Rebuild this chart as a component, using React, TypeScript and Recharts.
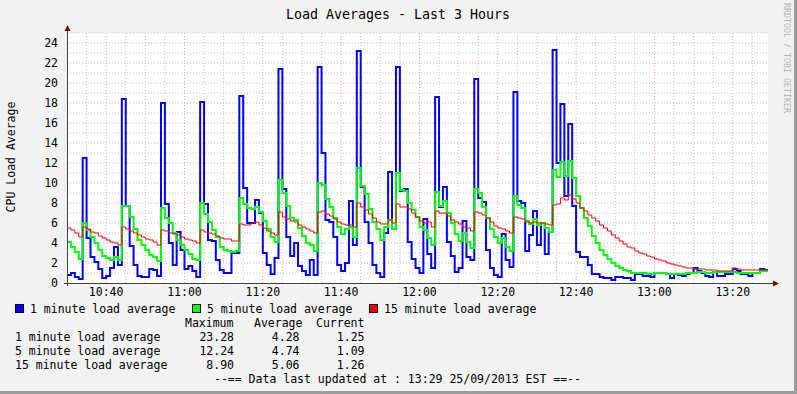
import React from 'react';
import { LineChart, Line, XAxis, YAxis, CartesianGrid } from 'recharts';

// minutes after 10:30, one sample per minute up to 13:29
const startMinute = 0;
const sampleCount = 180;

const load1 = [
    0.8, 1.0, 0.6, 0.4, 12.5, 4.5, 2.6, 2.1, 1.4, 0.5,
    0.7, 1.5, 3.6, 1.8, 18.4, 7.7, 3.7, 1.8, 0.7, 0.6,
    0.6, 1.4, 1.3, 0.7, 18.0, 7.9, 4.0, 1.8, 5.1, 3.3,
    1.4, 1.7, 1.2, 0.6, 18.1, 7.9, 4.3, 4.2, 2.3, 1.3,
    1.0, 1.0, 3.0, 3.0, 18.7, 9.5, 6.0, 6.0, 8.3, 7.0,
    3.0, 1.8, 0.9, 2.5, 21.4, 9.4, 4.6, 2.7, 4.0, 1.7,
    1.2, 0.8, 2.3, 0.8, 21.6, 13.0, 6.3, 6.1, 4.6, 1.8,
    1.2, 2.0, 8.2, 3.8, 23.2, 9.6, 6.1, 4.0, 1.8, 1.0,
    0.6, 5.0, 11.1, 5.4, 21.6, 9.2, 9.4, 4.1, 2.4, 1.5,
    1.0, 6.4, 2.9, 1.5, 18.6, 7.6, 9.6, 4.1, 2.7, 1.1,
    1.5, 6.2, 2.6, 2.3, 20.4, 8.5, 8.1, 3.3, 1.5, 0.8,
    0.6, 4.9, 2.3, 1.6, 19.1, 8.2, 8.0, 3.2, 4.8, 7.2,
    3.8, 6.0, 2.9, 5.1, 23.3, 12.0, 17.9, 8.7, 15.9, 7.7,
    3.1, 2.6, 2.6, 1.8, 0.9, 0.9, 0.6, 0.5, 0.5, 0.3,
    0.6, 0.6, 0.5, 0.5, 0.3, 0.9, 0.9, 0.7, 0.7, 0.6,
    1.0, 1.0, 1.0, 0.9, 0.5, 0.9, 0.8, 0.7, 0.9, 1.0,
    1.5, 1.2, 1.0, 0.7, 0.6, 1.1, 0.7, 0.7, 0.9, 0.9,
    1.4, 1.2, 0.9, 0.9, 0.7, 1.0, 1.0, 1.4, 1.3, 1.25,
];

const load5 = [
    4.1, 3.6, 3.1, 2.4, 6.0, 5.3, 4.6, 4.0, 3.3, 2.7,
    2.5, 2.3, 2.6, 2.3, 7.7, 7.7, 6.6, 5.4, 4.3, 3.8,
    3.3, 2.8, 2.6, 2.2, 7.5, 6.5, 6.0, 5.0, 4.3, 3.8,
    3.3, 2.9, 2.4, 2.3, 8.0, 6.9, 6.1, 5.3, 4.6, 3.6,
    3.3, 3.2, 3.1, 3.2, 8.5, 7.9, 7.5, 7.4, 7.6, 7.1,
    6.2, 5.4, 4.6, 4.1, 10.3, 9.0, 7.7, 6.5, 6.3, 5.5,
    4.7, 4.0, 3.8, 3.2, 10.0, 9.8, 8.4, 7.6, 6.5, 5.6,
    4.9, 5.4, 5.6, 4.6, 11.5, 9.7, 8.9, 7.4, 6.1, 5.4,
    4.3, 5.6, 6.3, 5.4, 11.0, 9.3, 9.2, 8.0, 7.3, 6.6,
    5.6, 5.3, 4.5, 3.8, 9.1, 7.7, 8.2, 7.0, 6.0, 4.9,
    4.2, 5.0, 4.1, 3.5, 9.4, 9.0, 7.6, 6.5, 5.4, 4.6,
    4.0, 4.5, 3.6, 3.2, 8.7, 7.8, 7.5, 6.2, 5.9, 6.4,
    5.8, 6.0, 5.5, 5.1, 11.3, 10.6, 12.1, 10.7, 12.2, 10.5,
    8.7, 7.5, 6.5, 5.7, 4.7, 4.0, 3.3, 2.8, 2.4, 2.0,
    1.7, 1.5, 1.3, 1.2, 1.0, 1.0, 1.0, 1.0, 0.9, 0.9,
    1.0, 1.0, 1.0, 0.9, 0.9, 0.9, 0.9, 0.9, 1.0, 1.0,
    1.0, 1.1, 1.1, 1.0, 1.0, 1.1, 1.1, 1.1, 1.1, 1.1,
    1.1, 1.0, 1.0, 1.0, 1.0, 1.0, 1.0, 1.2, 1.2, 1.09,
];

const load15 = [
    5.5, 5.3, 5.0, 4.6, 5.6, 5.4, 5.1, 5.0, 4.7, 4.5,
    4.3, 4.1, 4.0, 3.8, 5.6, 5.4, 5.2, 5.0, 4.8, 4.6,
    4.4, 4.3, 4.1, 3.8, 5.3, 5.2, 5.0, 4.9, 4.8, 4.6,
    4.4, 4.3, 4.2, 4.0, 5.3, 5.1, 5.0, 4.9, 4.7, 4.5,
    4.4, 4.4, 4.2, 4.2, 5.9, 5.8, 5.8, 6.0, 6.1, 5.8,
    5.5, 5.2, 5.0, 4.8, 7.1, 6.6, 6.4, 6.2, 6.1, 5.8,
    5.6, 5.4, 5.2, 5.0, 7.1, 7.2, 6.9, 6.7, 6.4, 6.1,
    5.9, 5.8, 5.8, 5.6, 8.0, 7.6, 7.3, 6.9, 6.5, 6.1,
    5.9, 5.9, 6.3, 6.0, 7.9, 7.6, 7.6, 7.4, 7.0, 6.6,
    6.2, 6.0, 6.1, 5.6, 7.2, 7.0, 7.0, 6.7, 6.3, 6.1,
    5.9, 5.6, 5.5, 5.2, 7.1, 7.0, 6.8, 6.5, 6.1, 5.7,
    5.5, 5.4, 5.2, 5.0, 6.6, 6.5, 6.4, 6.1, 6.0, 6.1,
    6.0, 6.0, 5.9, 5.8, 7.8, 7.9, 8.5, 8.3, 8.8, 8.4,
    8.0, 7.5, 7.2, 6.8, 6.5, 6.2, 5.8, 5.5, 5.2, 4.8,
    4.5, 4.2, 3.9, 3.6, 3.5, 3.2, 3.0, 2.9, 2.7, 2.6,
    2.4, 2.3, 2.2, 2.0, 1.9, 1.8, 1.7, 1.6, 1.5, 1.5,
    1.4, 1.4, 1.4, 1.3, 1.3, 1.3, 1.2, 1.2, 1.2, 1.2,
    1.5, 1.4, 1.3, 1.3, 1.3, 1.3, 1.3, 1.3, 1.3, 1.26,
];

const timeTicks = [10, 30, 50, 70, 90, 110, 130, 150, 170];
const timeLabels = ['10:40', '11:00', '11:20', '11:40', '12:00', '12:20', '12:40', '13:00', '13:20'];
const valueTicks = [0, 2, 4, 6, 8, 10, 12, 14, 16, 18, 20, 22, 24];

const seriesNames = ['1 minute load average', '5 minute load average', '15 minute load average'];
const seriesColors = ['#0000FF', '#00FF00', '#FF0000'];
const maximums = ['23.28', '12.24', '8.90'];
const averages = ['4.28', '4.74', '5.06'];
const currents = ['1.25', '1.09', '1.26'];

const data = load1.map((v, i) => ({
    m: startMinute + i,
    load1: v,
    load5: load5[i],
    load15: load15[i],
}));

// grid: minor every 1 unit / 5 min, major every 2 units / 20 min
const minorH = Array.from({ length: 13 }, (_, i) => i * 2 + 1);
const minorV = Array.from({ length: 35 }, (_, i) => (i + 1) * 5).filter(v => !timeTicks.includes(v));
const majorH = valueTicks.filter(v => v > 0);

const MONO = '"DejaVu Sans Mono", monospace';
const FS = 11.5;

const TimeTick = ({ x, y, payload }: any) => (
    <text x={x} y={y + 9} textAnchor="middle" dominantBaseline="central" fontFamily={MONO} fontSize={FS} fill="#000">
        {timeLabels[timeTicks.indexOf(payload.value)]}
    </text>
);

const ValueTick = ({ x, y, payload }: any) => (
    <text x={x - 9} y={y} textAnchor="end" dominantBaseline="central" fontFamily={MONO} fontSize={FS} fill="#000">
        {payload.value}
    </text>
);

export default function App() {
    return (
        <div style={{ position: 'absolute', left: 0, top: 0, width: 797, height: 394, background: '#F2F2F2', overflow: 'hidden' }}>
            <LineChart width={797} height={394} data={data} margin={{ top: 33, right: 29, bottom: 0, left: 0 }}>
                <CartesianGrid
                    fill="#FFFFFF"
                    stroke="#C8C8C8"
                    strokeDasharray="1 2"
                    horizontalValues={minorH}
                    verticalValues={minorV}
                />
                <CartesianGrid
                    stroke="#F0A8A8"
                    strokeDasharray="1 2"
                    horizontalValues={majorH}
                    verticalValues={timeTicks}
                />
                <XAxis
                    type="number"
                    dataKey="m"
                    domain={[0, 179]}
                    ticks={timeTicks}
                    interval={0}
                    height={111}
                    axisLine={false}
                    tickLine={false}
                    tickSize={0}
                    tickMargin={0}
                    tick={<TimeTick />}
                    allowDataOverflow
                />
                <YAxis
                    type="number"
                    domain={[0, 25]}
                    ticks={valueTicks}
                    interval={0}
                    width={67}
                    axisLine={false}
                    tickLine={false}
                    tickSize={0}
                    tickMargin={0}
                    tick={<ValueTick />}
                    allowDataOverflow
                />
                <Line type="stepAfter" dataKey="load1" stroke={seriesColors[0]} strokeWidth={2} dot={false} isAnimationActive={false} />
                <Line type="stepAfter" dataKey="load5" stroke={seriesColors[1]} strokeWidth={2} dot={false} isAnimationActive={false} />
                <Line type="stepAfter" dataKey="load15" stroke={seriesColors[2]} strokeWidth={1} dot={false} isAnimationActive={false} />
            </LineChart>

            {/* frame, axes, arrows and all the rrdtool text */}
            <svg width={797} height={394} style={{ position: 'absolute', left: 0, top: 0, pointerEvents: 'none' }}>
                <line x1={0} y1={392.5} x2={797} y2={392.5} stroke="#9C9C9C" strokeWidth={3} />
                <line x1={795.5} y1={0} x2={795.5} y2={394} stroke="#9C9C9C" strokeWidth={3} />

                <line x1={67.5} y1={30} x2={67.5} y2={286} stroke="#404040" strokeWidth={1} />
                <line x1={64} y1={283.5} x2={774} y2={283.5} stroke="#404040" strokeWidth={1} />
                <polygon points="67.5,25 64.5,31 70.5,31" fill="#7F0000" />
                <polygon points="779,283.5 773,280.5 773,286.5" fill="#7F0000" />

                <text x={398} y={14} textAnchor="middle" dominantBaseline="central" fontFamily={MONO} fontSize={13.3} fill="#000">
                    Load Averages - Last 3 Hours
                </text>
                <text x={11} y={157} textAnchor="middle" dominantBaseline="central" fontFamily={MONO} fontSize={FS} fill="#000" transform="rotate(-90 11 157)">
                    CPU Load Average
                </text>
                <text x={787} y={58} textAnchor="middle" dominantBaseline="central" fontFamily={MONO} fontSize={8.3} fill="#B4B4B4" transform="rotate(90 787 58)">
                    RRDTOOL / TOBI OETIKER
                </text>

                {seriesNames.map((name, i) => {
                    const left = [15, 192, 369][i];
                    return (
                        <g key={name}>
                            <rect x={left + 0.5} y={304.5} width={8} height={8} fill={seriesColors[i]} stroke="#000" strokeWidth={1} />
                            <text x={left + 15} y={308.5} dominantBaseline="central" fontFamily={MONO} fontSize={FS} fill="#000">{name}</text>
                        </g>
                    );
                })}

                <text x={185} y={322.5} dominantBaseline="central" fontFamily={MONO} fontSize={FS} fill="#000">Maximum</text>
                <text x={254} y={322.5} dominantBaseline="central" fontFamily={MONO} fontSize={FS} fill="#000">Average</text>
                <text x={316} y={322.5} dominantBaseline="central" fontFamily={MONO} fontSize={FS} fill="#000">Current</text>

                {seriesNames.map((name, i) => {
                    const y = 336.5 + i * 14;
                    return (
                        <g key={'row' + name}>
                            <text x={15} y={y} dominantBaseline="central" fontFamily={MONO} fontSize={FS} fill="#000">{name}</text>
                            <text x={234} y={y} textAnchor="end" dominantBaseline="central" fontFamily={MONO} fontSize={FS} fill="#000">{maximums[i]}</text>
                            <text x={299.5} y={y} textAnchor="end" dominantBaseline="central" fontFamily={MONO} fontSize={FS} fill="#000">{averages[i]}</text>
                            <text x={364.5} y={y} textAnchor="end" dominantBaseline="central" fontFamily={MONO} fontSize={FS} fill="#000">{currents[i]}</text>
                        </g>
                    );
                })}

                <text x={214} y={378.5} dominantBaseline="central" fontFamily={MONO} fontSize={FS} fill="#000">
                    --== Data last updated at : 13:29 25/09/2013 EST ==--
                </text>
            </svg>
        </div>
    );
}
